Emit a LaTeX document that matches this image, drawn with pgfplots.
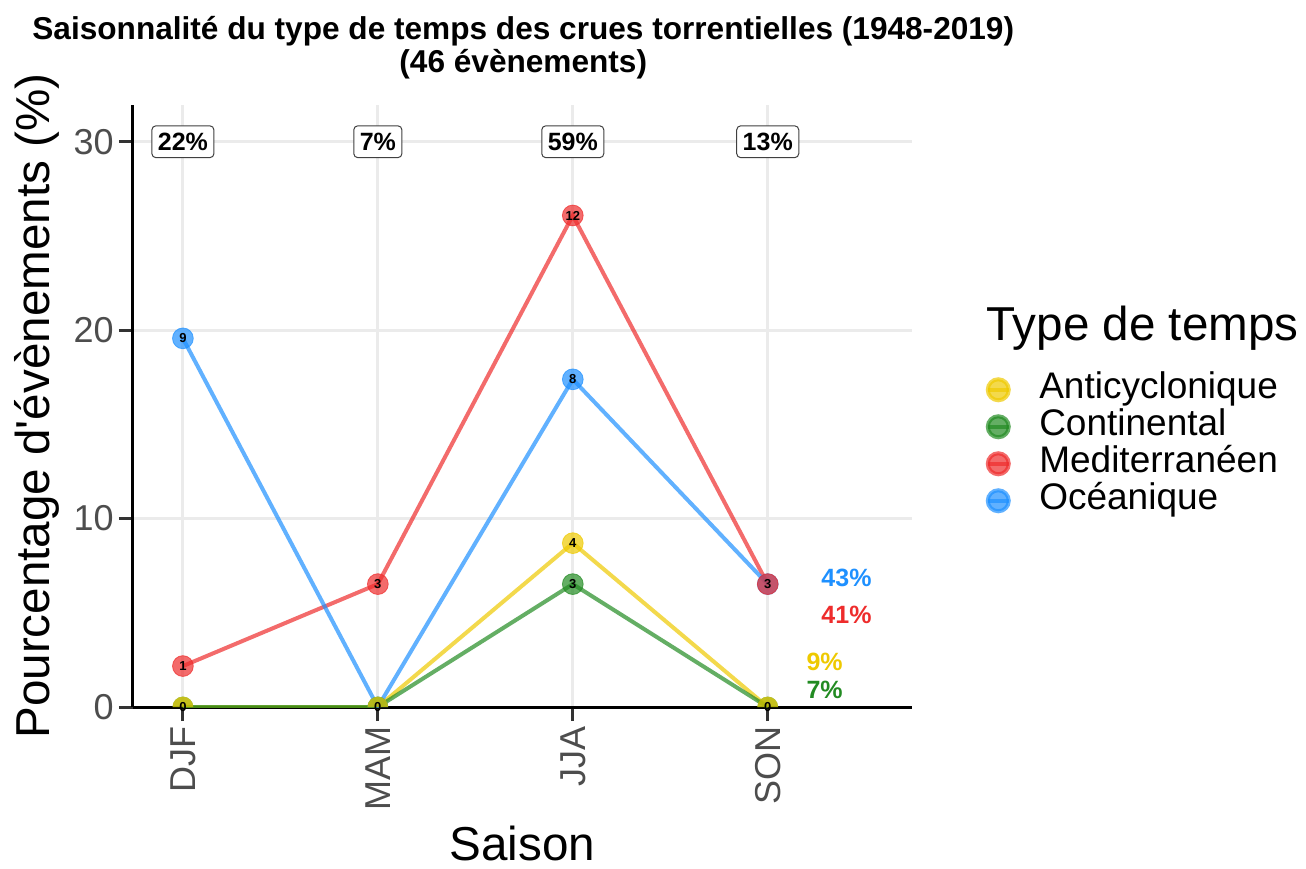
\documentclass[border=0pt]{standalone}
\usepackage{fontspec}
\setmainfont{Liberation Sans}
\usepackage{pgfplots}
\pgfplotsset{compat=1.18}

\definecolor{cant}{RGB}{238,201,0}
\definecolor{ccon}{RGB}{34,139,34}
\definecolor{cmed}{RGB}{238,44,44}
\definecolor{coce}{RGB}{30,144,255}
\definecolor{gridc}{RGB}{235,235,235}
\definecolor{tickc}{RGB}{77,77,77}
\newcommand\fs[1]{\fontsize{#1}{#1}\selectfont}

% demi-disque pour les points posés sur l'axe (coupés comme dans l'original)
\pgfdeclareplotmark{demi*}{%
  \pgfpathmoveto{\pgfqpoint{\pgfplotmarksize}{0pt}}%
  \pgfpatharc{0}{180}{\pgfplotmarksize}%
  \pgfpathclose
  \pgfusepathqfill}

\pgfplotsset{
  serie/.style={line width=2pt, color=#1, opacity=0.7,
    legend image code/.code={
      \draw[line width=2pt, ##1] (0pt,0pt) -- (10.5pt,0pt);
      \fill[##1] (5.25pt,0pt) circle (5.25pt);}},
  pts/.style={only marks, mark=*, mark size=5.2pt, color=#1, opacity=0.7,
    mark options={draw=none, fill=#1}, forget plot},
}

\begin{document}
\begin{tikzpicture}
\useasboundingbox (-66.5pt,-80.5pt) rectangle (586.5pt,353.5pt);
\begin{axis}[
  at={(0,0)}, anchor=south west,
  scale only axis, width=389.5pt, height=301pt,
  xmin=-0.256, xmax=3.74, ymin=0, ymax=31.95,
  axis x line*=bottom, axis y line*=left,
  axis line style={line width=1.5pt, black, -},
  xtick={0,1,2,3}, xticklabels={DJF,MAM,JJA,SON},
  ytick={0,10,20,30},
  xmajorgrids, ymajorgrids,
  grid style={gridc, line width=1.5pt},
  tick style={line width=1.5pt, color=black!80},
  major tick length=7pt,
  tick align=outside,
  /pgf/number format/assume math mode=true,
  xticklabel style={rotate=90, anchor=east, font=\fs{18}, text=tickc, inner sep=2.5pt},
  yticklabel style={font=\fs{18}, text=tickc, inner sep=2.5pt},
  xlabel={Saison},
  ylabel={Pourcentage d\textquotesingle évènements (\%)},
  xlabel style={at={(axis description cs:0.5,-0.226)}, anchor=center, font=\fs{23.8}},
  ylabel style={at={(axis description cs:-0.123,0.5)}, anchor=center, font=\fs{23.8}},
  legend style={at={(axis description cs:1.0865,0.565)}, anchor=north west,
    draw=none, fill=none, font=\fs{18.5}, column sep=14.25pt, row sep=0pt,
    nodes={inner sep=0pt, text height=13.5pt, text depth=5pt}},
  legend cell align=left,
  extra description/.code={
    \node[anchor=base, font=\bfseries\fs{15.8}, inner sep=0pt] at (0.501,1.1096)
      {Saisonnalité du type de temps des crues torrentielles (1948-2019)};
    \node[anchor=base, font=\bfseries\fs{15.8}, inner sep=0pt] at (0.501,1.0548)
      {(46 évènements)};
    \node[anchor=base west, font=\fs{23.8}, inner sep=0pt] at (1.095,0.6096)
      {Type de temps};
  },
]
% lignes
\addplot[serie=cant] coordinates {(0,0) (1,0) (2,8.696) (3,0)};
\addlegendentry{Anticyclonique}
\addplot[serie=ccon] coordinates {(0,0) (1,0) (2,6.522) (3,0)};
\addlegendentry{Continental}
\addplot[serie=cmed] coordinates {(0,2.174) (1,6.522) (2,26.087) (3,6.522)};
\addlegendentry{Mediterranéen}
\addplot[serie=coce] coordinates {(0,19.565) (1,0) (2,17.391) (3,6.522)};
\addlegendentry{Océanique}

% points
\addplot[pts=coce] coordinates {(0,19.565) (2,17.391) (3,6.522)};
\addplot[pts=coce, mark=demi*] coordinates {(1,0)};
\addplot[pts=cmed] coordinates {(0,2.174) (1,6.522) (2,26.087) (3,6.522)};
\addplot[pts=ccon] coordinates {(2,6.522)};
\addplot[pts=ccon, mark=demi*] coordinates {(0,0) (1,0) (3,0)};
\addplot[pts=cant] coordinates {(2,8.696)};
\addplot[pts=cant, mark=demi*] coordinates {(0,0) (1,0) (3,0)};

% effectifs
\addplot[only marks, mark=none, forget plot, point meta=explicit symbolic,
  nodes near coords, every node near coord/.style={anchor=center, font=\bfseries\fs{6.5}, text=black, inner sep=0pt}]
coordinates {
  (0,19.565)[9] (1,0)[0] (2,17.391)[8] (3,6.522)[3]
  (0,2.174)[1] (1,6.522)[3] (2,26.087)[12]
  (0,0)[0] (2,6.522)[3] (3,0)[0]
  (2,8.696)[4]
};

% parts saisonnieres
\tikzset{boite/.style={draw=black!75, fill=white, rounded corners=2pt, line width=0.5pt,
  font=\bfseries\fs{12.5}, inner xsep=3pt, inner ysep=3.3pt, text height=9pt, text depth=0.3pt}}
\node[boite] at (axis cs:0,30) {22\%};
\node[boite] at (axis cs:1,30) {7\%};
\node[boite] at (axis cs:2,30) {59\%};
\node[boite] at (axis cs:3,30) {13\%};

% parts par type
\node[font=\bfseries\fs{12.5}, text=coce] at (axis cs:3.404,6.85) {43\%};
\node[font=\bfseries\fs{12.5}, text=cmed] at (axis cs:3.404,4.89) {41\%};
\node[font=\bfseries\fs{12.5}, text=cant] at (axis cs:3.292,2.39) {9\%};
\node[font=\bfseries\fs{12.5}, text=ccon] at (axis cs:3.292,0.90) {7\%};
\end{axis}
\end{tikzpicture}
\end{document}
